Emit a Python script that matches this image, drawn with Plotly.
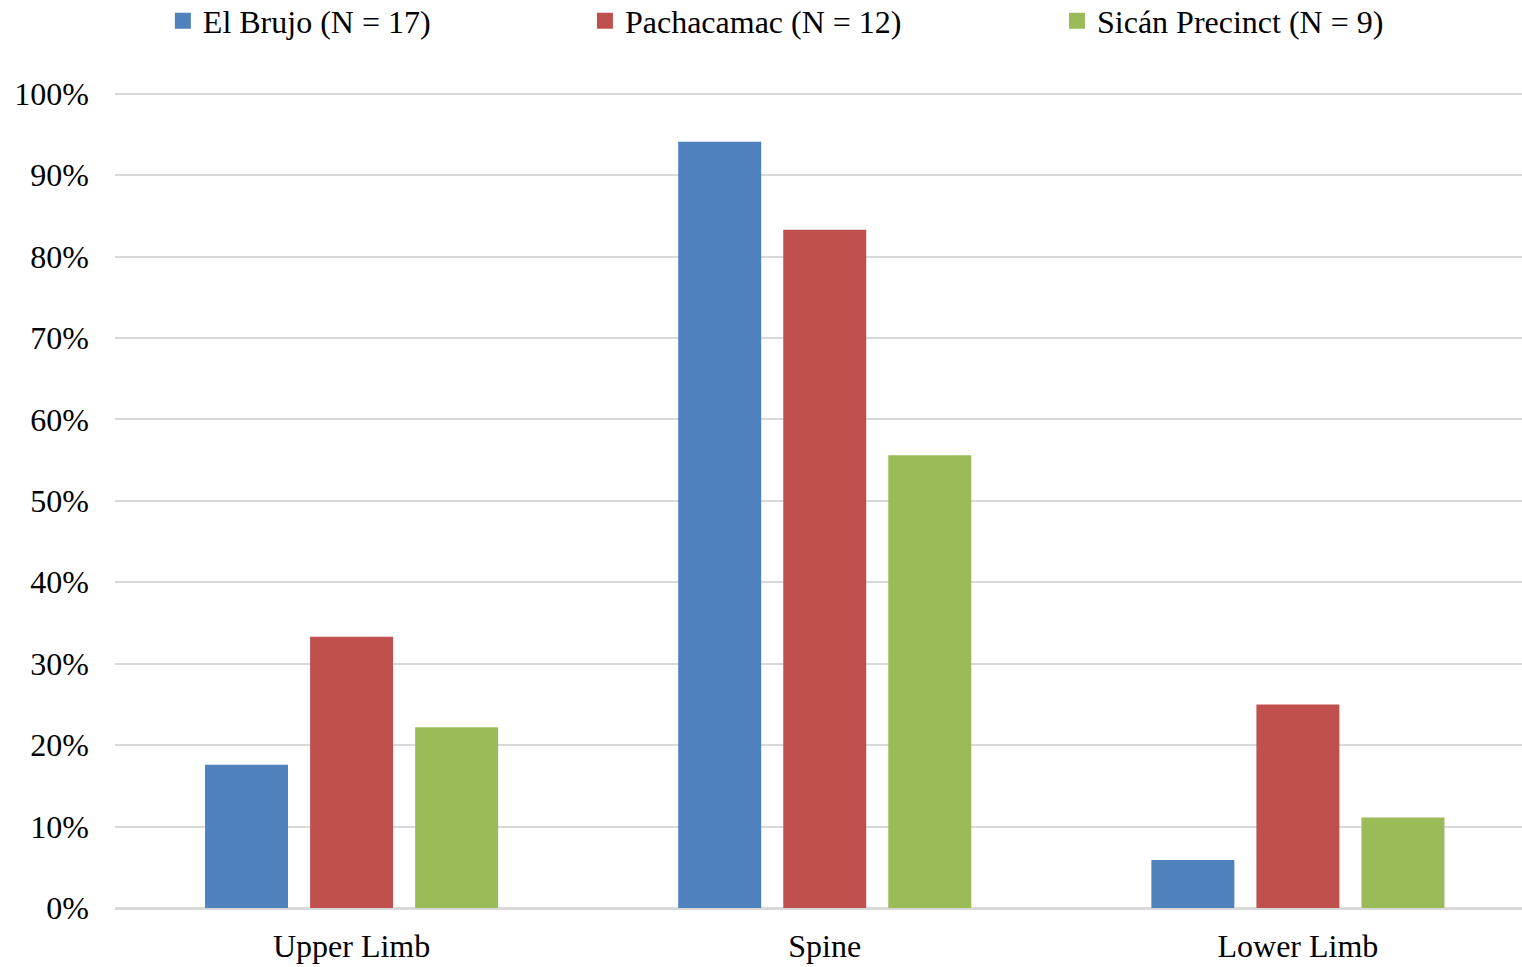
import plotly.graph_objects as go

# Body regions and share of individuals affected per site
regions = ["Upper Limb", "Spine", "Lower Limb"]
el_brujo = [0.176, 0.941, 0.059]
pachacamac = [0.333, 0.833, 0.250]
sican = [0.222, 0.556, 0.111]

series_names = ["El Brujo (N = 17)", "Pachacamac (N = 12)", "Sicán Precinct (N = 9)"]
series_colors = ["#4F81BD", "#C0504D", "#9BBB59"]
legend_ids = ["legend", "legend2", "legend3"]
legend_x = [0.034, 0.334, 0.6695]

y_ticks = [0, 0.1, 0.2, 0.3, 0.4, 0.5, 0.6, 0.7, 0.8, 0.9, 1.0]

FONT = "Liberation Serif, Times New Roman, serif"

fig = go.Figure()
for name, vals, color, lg in zip(series_names, [el_brujo, pachacamac, sican], series_colors, legend_ids):
    fig.add_trace(go.Bar(
        x=regions, y=vals, name=name,
        marker=dict(color=color, line=dict(width=0)),
        showlegend=False, legendgroup=name,
    ))
    # legend entry with a larger square swatch
    fig.add_trace(go.Scatter(
        x=[None], y=[None], mode="markers", name=name,
        marker=dict(symbol="square", size=16, color=color, line=dict(width=0)),
        legend=lg, showlegend=True, legendgroup=name, hoverinfo="skip",
    ))

legend_common = dict(
    orientation="h", yanchor="middle", y=1.087, xanchor="left",
    font=dict(family=FONT, size=32, color="black"),
    bgcolor="rgba(0,0,0,0)", visible=True, itemsizing="trace",
)

fig.update_layout(
    width=1522, height=967,
    margin=dict(l=115, r=0, t=92, b=59, autoexpand=False),
    paper_bgcolor="white", plot_bgcolor="white",
    showlegend=True,
    barmode="group", bargap=0.334, bargroupgap=0.21,
    font=dict(family=FONT, size=32, color="black"),
    legend=dict(x=legend_x[0], **legend_common),
    legend2=dict(x=legend_x[1], **legend_common),
    legend3=dict(x=legend_x[2], **legend_common),
    xaxis=dict(
        type="category", range=[-0.5, 2.4736],
        showgrid=False, showline=True, linecolor="#D9D9D9", linewidth=2,
        ticks="", tickfont=dict(family=FONT, size=32, color="black"),
        ticklabelstandoff=9,
    ),
    yaxis=dict(
        range=[0, 1.002], tickvals=y_ticks, tickformat=".0%",
        showgrid=True, gridcolor="#D9D9D9", gridwidth=2,
        zeroline=True, zerolinecolor="#D9D9D9", zerolinewidth=2,
        showline=False, ticks="",
        tickfont=dict(family=FONT, size=32, color="black"),
        ticklabelstandoff=25,
    ),
)

fig.write_html("out.html")
